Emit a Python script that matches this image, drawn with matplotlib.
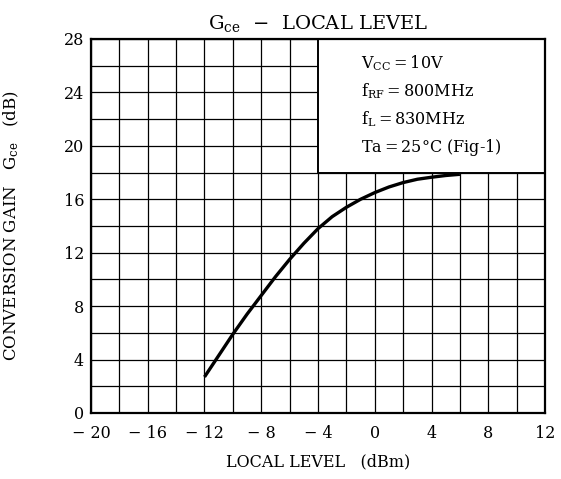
import matplotlib
matplotlib.use("Agg")
import matplotlib.pyplot as plt
from matplotlib.patches import Rectangle
import numpy as np

plt.rcParams['font.family'] = 'DejaVu Serif'
plt.rcParams['mathtext.fontset'] = 'dejavuserif'

local_level = [-12, -11, -10, -9, -8, -7, -6, -5, -4, -3, -2, -1, 0, 1, 2, 3, 4, 5, 6]
gain = [2.7, 4.3, 5.9, 7.4, 8.8, 10.2, 11.5, 12.7, 13.8, 14.7, 15.4, 16.0, 16.5, 16.92, 17.25, 17.5, 17.65, 17.78, 17.87]

x_ticks = [-20, -16, -12, -8, -4, 0, 4, 8, 12]
y_ticks = [0, 4, 8, 12, 16, 20, 24, 28]
annot_lines = [r"V$_{\rm CC}$$=$10V", r"f$_{\rm RF}$$=$800MHz", r"f$_{\rm L}$$=$830MHz", "Ta$=$25°C (Fig-1)"]

fig = plt.figure(figsize=(5.61, 4.79), dpi=100)
ax = fig.add_axes([0.1622, 0.1378, 0.9715 - 0.1622, 0.9186 - 0.1378])
ax.set_xlim(-20, 12)
ax.set_ylim(0, 28)
ax.set_xticks(x_ticks)
ax.set_yticks(y_ticks)
ax.set_xticks(np.arange(-20, 13, 2), minor=True)
ax.set_yticks(np.arange(0, 29, 2), minor=True)
ax.set_xticklabels([str(v).replace('-', '\u2212 ') for v in x_ticks], fontsize=11.5)
ax.set_yticklabels([str(v) for v in y_ticks], fontsize=11.5)
ax.tick_params(axis='x', which='both', length=0, pad=9)
ax.tick_params(axis='y', which='both', length=0, pad=5)
ax.grid(which='both', color='black', linewidth=0.9)
ax.set_axisbelow(True)
for s in ax.spines.values():
    s.set_linewidth(1.6)

# white box over grid for annotation
ax.add_patch(Rectangle((-4, 18), 16, 10, facecolor='white', edgecolor='black', linewidth=1.4, zorder=2))

ax.plot(local_level, gain, color='black', linewidth=2.4, zorder=3,
        solid_capstyle='butt', solid_joinstyle='round')

y0 = 26.2
for i, t in enumerate(annot_lines):
    ax.text(-1.0, y0 - i * 2.1, t, fontsize=11.5, va='center', ha='left', zorder=4)

ax.set_title(r"G$_{\rm ce}$  $-$  LOCAL LEVEL", fontsize=14, pad=7)
ax.set_xlabel("LOCAL LEVEL   (dBm)", fontsize=11.5, labelpad=8)
ax.set_ylabel(r"CONVERSION GAIN   G$_{\rm ce}$   (dB)", fontsize=12)
ax.yaxis.set_label_coords((21 - 91) / (545 - 91), 0.5)

fig.savefig("out.png", dpi=100)
